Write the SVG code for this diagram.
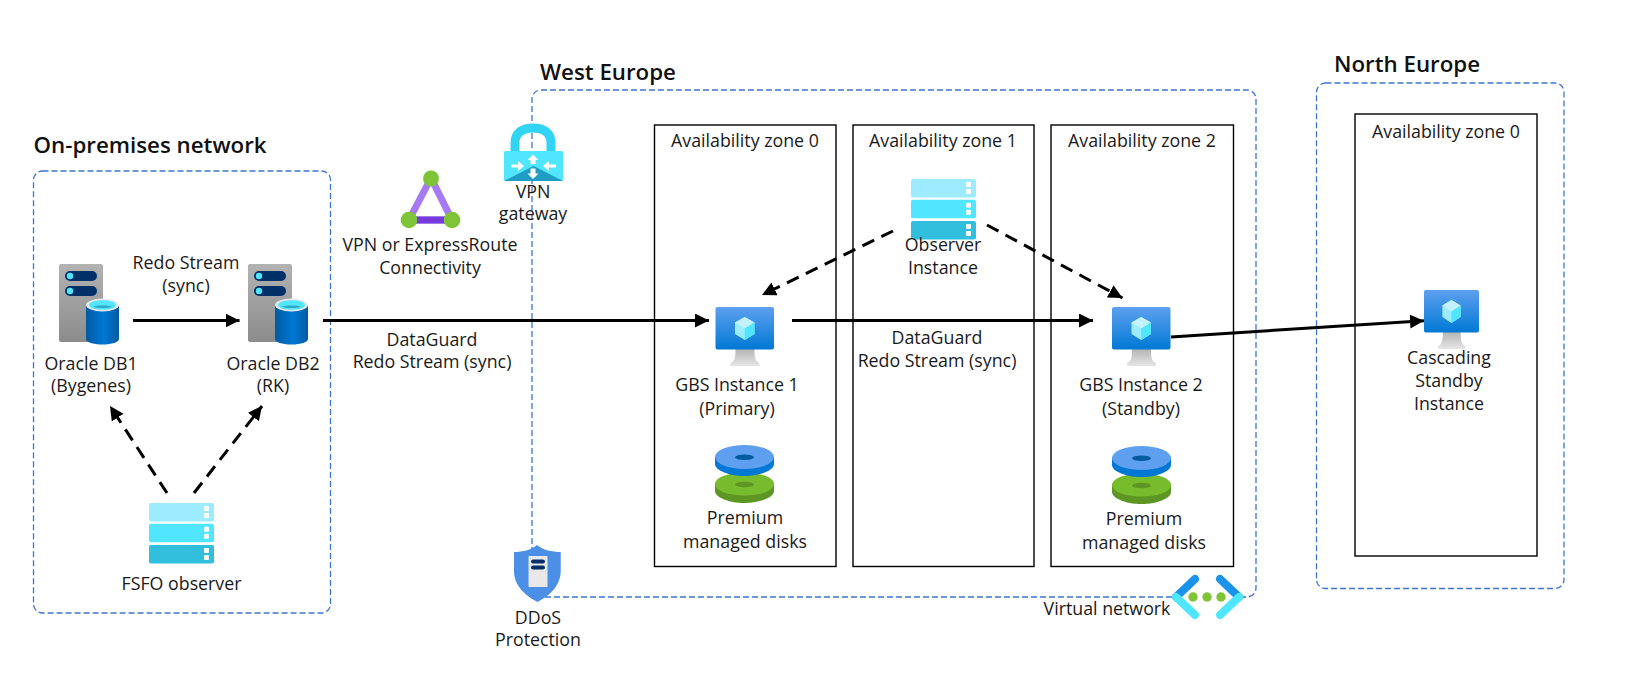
<svg xmlns="http://www.w3.org/2000/svg" xmlns:xlink="http://www.w3.org/1999/xlink" width="1645" height="694" viewBox="0 0 1645 694">
<style>
text{font-family:"Open Sans","Noto Sans","Liberation Sans",sans-serif;font-size:17.800px;fill:#1a1a1a;text-anchor:middle}
.h{font-size:22.300px;font-weight:600;fill:#111;text-anchor:start}
.region{fill:none;stroke:#3f74d0;stroke-width:1.3;stroke-dasharray:6 3}
.zone{fill:none;stroke:#000;stroke-width:1.4}
.solid{fill:none;stroke:#000;stroke-width:3;marker-end:url(#ah)}
.dash{fill:none;stroke:#000;stroke-width:3;stroke-dasharray:13 8;marker-end:url(#ah)}
</style>
<defs>
<marker id="ah" markerUnits="userSpaceOnUse" markerWidth="15" markerHeight="15" refX="14" refY="7" orient="auto"><path d="M0 0L14 7L0 14Z" fill="#000"/></marker>
<linearGradient id="gs" x1="0" y1="0" x2="0" y2="1"><stop offset="0" stop-color="#b3b3b3"/><stop offset="1" stop-color="#8c8c8c"/></linearGradient>
<linearGradient id="gc" x1="0" y1="0" x2="1" y2="0"><stop offset="0" stop-color="#005ba1"/><stop offset=".55" stop-color="#0078d4"/><stop offset="1" stop-color="#005ba1"/></linearGradient>
<linearGradient id="gv" x1="0" y1="0" x2="0" y2="1"><stop offset="0" stop-color="#5ea0ef"/><stop offset="1" stop-color="#0078d4"/></linearGradient>
<linearGradient id="gb" x1="0" y1="0" x2="0" y2="1"><stop offset="0" stop-color="#b4b4b4"/><stop offset="1" stop-color="#e6e6e6"/></linearGradient>
<g id="db">
<rect x="0" y="0" width="44" height="78" rx="2" fill="url(#gs)"/>
<rect x="6" y="7" width="32" height="10" rx="5" fill="#003067"/><circle cx="11" cy="12" r="3.200" fill="#50e6ff"/>
<rect x="6" y="22" width="32" height="10" rx="5" fill="#003067"/><circle cx="11" cy="27" r="3.200" fill="#50e6ff"/>
<path d="M27 41V75C27 78 34 80.500 43.500 80.500S60 78 60 75V41Z" fill="url(#gc)"/>
<ellipse cx="43.500" cy="41" rx="16.500" ry="6.500" fill="#e8e8e8"/><ellipse cx="43.500" cy="41" rx="13.500" ry="4.800" fill="#50e6ff"/>
<path d="M34 42.500C37 44.500 50 44.500 53 42.500C50 41 37 41 34 42.500Z" fill="#32a8c8"/>
</g>
<g id="stack">
<rect x="0" y="0" width="65" height="18.500" rx="2" fill="#9cebff"/><rect x="55" y="3" width="5" height="5" rx="1" fill="#fff"/><rect x="55" y="10" width="5" height="5" rx="1" fill="#fff"/>
<rect x="0" y="20.700" width="65" height="18.500" rx="2" fill="#50e6ff"/><rect x="55" y="23.700" width="5" height="5" rx="1" fill="#fff"/><rect x="55" y="30.700" width="5" height="5" rx="1" fill="#fff"/>
<rect x="0" y="42" width="65" height="18.500" rx="2" fill="#32bedd"/><rect x="55" y="45" width="5" height="5" rx="1" fill="#fff"/><rect x="55" y="52" width="5" height="5" rx="1" fill="#fff"/>
</g>
<g id="vm">
<path d="M20 42H39C39 52 40 54 44 56V59H15V56C19 54 20 52 20 42Z" fill="url(#gb)"/>
<rect x="0" y="0" width="58.500" height="42.500" rx="2" fill="url(#gv)"/>
<path d="M29.200 10L39 15.500V27L29.200 33L19.500 27V15.500Z" fill="#9cebff"/>
<path d="M29.200 10L39 15.500L29.200 21.500L19.500 15.500Z" fill="#c3f1ff"/>
<path d="M29.200 21.500L39 15.500V27L29.200 33Z" fill="#50e6ff"/>
</g>
<g id="disks">
<path d="M0 39V46C0 52 13 58 29.500 58S59 52 59 46V39Z" fill="#5e9624"/>
<ellipse cx="29.500" cy="39" rx="29.500" ry="11.500" fill="#76bc2d"/><ellipse cx="29.500" cy="39.500" rx="9.500" ry="2.800" fill="#5e9624"/>
<path d="M0 12V19C0 25 13 31 29.500 31S59 25 59 19V12Z" fill="#0078d4"/>
<ellipse cx="29.500" cy="12" rx="29.500" ry="12" fill="#5ea0ef"/><ellipse cx="29.500" cy="12.300" rx="9.500" ry="2.800" fill="#005ba1"/>
</g>
</defs>
<rect width="1645" height="694" fill="#fff"/>

<g id="region-onprem"><rect class="region" x="33.500" y="171" width="297" height="442" rx="9"/><text class="h" x="33.500" y="153">On-premises network</text></g>
<g id="region-west"><path class="region" d="M1172 597H532V99A9 9 0 0 1 541 90H1247A9 9 0 0 1 1256 99V588A9 9 0 0 1 1247 597H1243"/><text class="h" x="540" y="80">West Europe</text></g>
<g id="region-north"><rect class="region" x="1316.500" y="83" width="247.500" height="505.500" rx="9"/><text class="h" x="1334" y="72">North Europe</text></g>

<g id="zone-w0"><rect class="zone" x="654.500" y="125" width="181.500" height="441.500"/><text x="745" y="147">Availability zone 0</text></g>
<g id="zone-w1"><rect class="zone" x="853" y="125" width="181" height="441.500"/><text x="943" y="147">Availability zone 1</text></g>
<g id="zone-w2"><rect class="zone" x="1051" y="125" width="182.500" height="441.500"/><text x="1142" y="147">Availability zone 2</text></g>
<g id="zone-n0"><rect class="zone" x="1355" y="114" width="182" height="442"/><text x="1446" y="138">Availability zone 0</text></g>

<g id="connectors">
<path class="solid" d="M133 320.500H239.500"/>
<path class="solid" d="M323 320.500H709"/>
<path class="solid" d="M792 320.500H1093"/>
<path class="solid" d="M1171 337L1424 320.700"/>
<path class="dash" d="M893 231L762 295"/>
<path class="dash" d="M987 225L1122.500 298"/>
<path class="dash" d="M167 493L110 406"/>
<path class="dash" d="M194 493L262 406"/>
</g>

<g id="db1"><use xlink:href="#db" href="#db" x="59" y="264"/><text x="91" y="370">Oracle DB1</text><text x="91" y="392">(Bygenes)</text></g>
<g id="db2"><use xlink:href="#db" href="#db" x="248" y="264"/><text x="273" y="370">Oracle DB2</text><text x="273" y="392">(RK)</text></g>
<g id="redo-label"><text x="186" y="269">Redo Stream</text><text x="186" y="292">(sync)</text></g>
<g id="dataguard-1"><text x="432" y="346">DataGuard</text><text x="432" y="368">Redo Stream (sync)</text></g>
<g id="dataguard-2"><text x="937" y="344">DataGuard</text><text x="937" y="367">Redo Stream (sync)</text></g>
<g id="fsfo"><use xlink:href="#stack" href="#stack" x="149" y="503"/><text x="181.500" y="590">FSFO observer</text></g>
<g id="vpn-conn">
<path d="M431 178L409 220H452Z" fill="none" stroke="#a67af4" stroke-width="7"/><path d="M409 220H452" stroke="#773adc" stroke-width="7"/>
<circle cx="431" cy="178.500" r="8" fill="#7fc437"/><circle cx="409" cy="220" r="8.300" fill="#7fc437"/><circle cx="452" cy="220" r="8.300" fill="#7fc437"/>
<text x="430" y="251">VPN or ExpressRoute</text><text x="430" y="274">Connectivity</text></g>
<g id="vpn-gateway">
<path d="M515 152V143C515 132 523 128 533 128S551 132 551 143V152" fill="none" stroke="#32d4f5" stroke-width="9"/>
<path d="M505.500 151H561.500A1.500 1.500 0 0 1 563 152.500V179.500A1.500 1.500 0 0 1 561.500 181H505.500A1.500 1.500 0 0 1 504 179.500V152.500A1.500 1.500 0 0 1 505.500 151Z" fill="#50e6ff"/>
<path d="M504 181L533.500 166L563 181Z" fill="#1f9dc4"/>
<path d="M533 154.500L538.500 160H535.500V164H530.500V160H527.500ZM533 179L538.500 173.500H535.500V168.500H530.500V173.500H527.500ZM524 166L518 161V164.500H511.500V167.500H518V171ZM543 166L549 161V164.500H556V167.500H549V171Z" fill="#fff"/>
<text x="533" y="198">VPN</text><text x="533" y="220">gateway</text></g>
<g id="ddos">
<path d="M537 545C543 550 552 552 560.700 552V571C560.700 586 549 596 537.500 602C526 596 514 586 514 571V552C523 552 531 550 537 545Z" fill="#4b8fe6"/>
<path d="M529 556H547Q547.500 556 547.500 557V586.500Q547.500 587 547 587H529Q528.500 587 528.500 586.500V557Q528.500 556 529 556Z" fill="#e8e8e8"/>
<rect x="531" y="559.500" width="14" height="4" rx="2" fill="#003067"/><rect x="531" y="565.500" width="14" height="4" rx="2" fill="#003067"/>
<text x="538" y="624">DDoS</text><text x="538" y="646">Protection</text></g>
<g id="gbs1"><use xlink:href="#vm" href="#vm" x="715.500" y="307"/><text x="737" y="391">GBS Instance 1</text><text x="737" y="415">(Primary)</text></g>
<g id="disks1"><use xlink:href="#disks" href="#disks" x="715" y="445"/><text x="745" y="524">Premium</text><text x="745" y="548">managed disks</text></g>
<g id="observer"><use xlink:href="#stack" href="#stack" x="911" y="179"/><text x="943" y="251">Observer</text><text x="943" y="274">Instance</text></g>
<g id="gbs2"><use xlink:href="#vm" href="#vm" x="1112" y="307"/><text x="1141" y="391">GBS Instance 2</text><text x="1141" y="415">(Standby)</text></g>
<g id="disks2"><use xlink:href="#disks" href="#disks" x="1112" y="446"/><text x="1144" y="525">Premium</text><text x="1144" y="549">managed disks</text></g>
<g id="cascade"><use xlink:href="#vm" href="#vm" transform="translate(1424 290) scale(.94 1)"/><text x="1449" y="364">Cascading</text><text x="1449" y="387">Standby</text><text x="1449" y="410">Instance</text></g>
<g id="vnet">
<path d="M1195 579L1176 597" fill="none" stroke="#1b93eb" stroke-width="8" stroke-linecap="round"/>
<path d="M1176 597L1195 615" fill="none" stroke="#50e6ff" stroke-width="8" stroke-linecap="round"/>
<path d="M1220 579L1239 597" fill="none" stroke="#1b93eb" stroke-width="8" stroke-linecap="round"/>
<path d="M1239 597L1220 615" fill="none" stroke="#50e6ff" stroke-width="8" stroke-linecap="round"/>
<circle cx="1193" cy="597" r="4.700" fill="#7fc437"/><circle cx="1207" cy="597" r="4.700" fill="#7fc437"/><circle cx="1221" cy="597" r="4.700" fill="#7fc437"/>
<text x="1107" y="615">Virtual network</text></g>
</svg>
